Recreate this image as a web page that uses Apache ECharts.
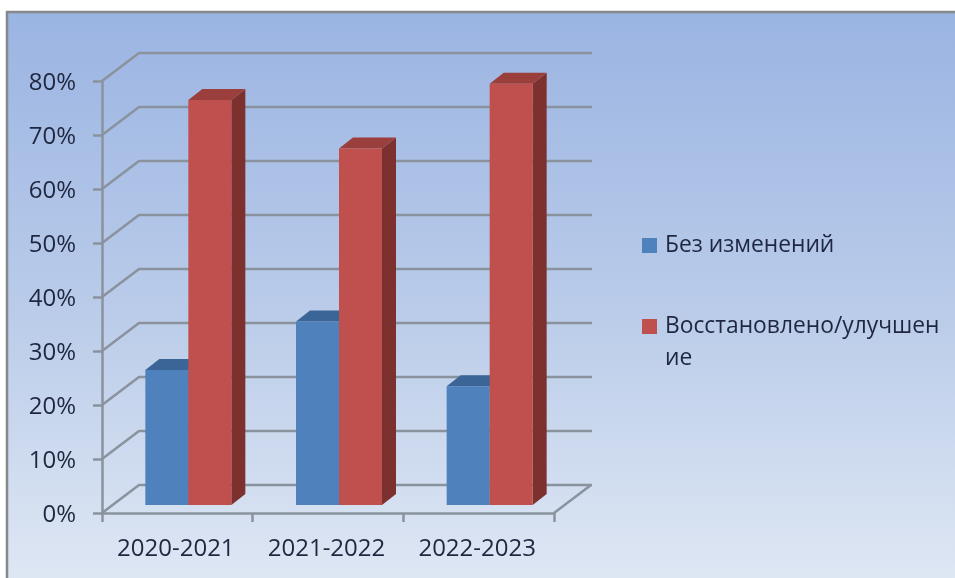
<!DOCTYPE html>
<html><head><meta charset="utf-8">
<style>html,body{margin:0;padding:0;background:#fff}#c{width:955px;height:578px}</style>
<script src="https://cdn.jsdelivr.net/npm/echarts@6/dist/echarts.min.js"></script>
</head><body><div id="c"></div>
<script>
const categories = ['2020-2021', '2021-2022', '2022-2023'];
const seriesNames = ['Без изменений', 'Восстановлено/улучшение'];
const unchanged = [25, 34, 22];
const improved = [75, 66, 78];
const yTicks = [0, 10, 20, 30, 40, 50, 60, 70, 80];

const FONT = '"Open Sans", "Noto Sans", sans-serif';
const TEXT = '#1f2740';
const GRID = '#8a929e';
const LINE_W = 2.5;
const WALL = [37, -28];
const BAR_SHIFT = [11, -8];
const BAR_DEPTH = [14, -11];
const BAR_FRACTION = 0.2854;

function wallItem(params, api) {
  const v = api.value(1), cs = params.coordSys, y = api.coord([0, v])[1];
  const l = cs.x, r = cs.x + cs.width;
  const style = { stroke: GRID, lineWidth: LINE_W, fill: null };
  const children = [{ type: 'polyline', shape: { points: [[l, y], [l + WALL[0], y + WALL[1]], [r + WALL[0] + 1, y + WALL[1]]] }, style }];
  if (v === 0) children.push({ type: 'line', shape: { x1: r, y1: y, x2: r + WALL[0], y2: y + WALL[1] }, style });
  return { type: 'group', children };
}

function barRender(index, front, top, side) {
  return function (params, api) {
    const cat = api.value(0), val = api.value(1);
    const c = api.coord([cat, val]), b = api.coord([cat, 0]);
    const w = api.size([1, 0])[0] * BAR_FRACTION;
    const x0 = c[0] + BAR_SHIFT[0] + (index - 1) * w, x1 = x0 + w;
    const yT = c[1] + BAR_SHIFT[1], yB = b[1] + BAR_SHIFT[1];
    const [dx, dy] = BAR_DEPTH;
    return { type: 'group', children: [
      { type: 'polygon', shape: { points: [[x1, yT], [x1 + dx, yT + dy], [x1 + dx, yB + dy], [x1, yB]] }, style: { fill: side } },
      { type: 'polygon', shape: { points: [[x0, yT], [x0 + dx, yT + dy], [x1 + dx, yT + dy], [x1, yT]] }, style: { fill: top } },
      { type: 'rect', shape: { x: x0, y: yT, width: w, height: yB - yT }, style: { fill: front } }
    ] };
  };
}

const chart = echarts.init(document.getElementById('c'), null, { renderer: 'canvas' });
chart.setOption({
  animation: false,
  tooltip: { show: false },
  graphic: [
    { type: 'rect', z: -10, shape: { x: 7, y: 12, width: 960, height: 580 },
      style: { stroke: '#85898c', lineWidth: 2.5,
        fill: { type: 'linear', x: 0, y: 0, x2: 0, y2: 1, colorStops: [
          { offset: 0, color: '#9ab4e2' }, { offset: 0.5, color: '#b9cbe9' }, { offset: 1, color: '#e0e8f4' } ] } } },
    { type: 'text', z: 10, left: 665, top: 347, style: { text: 'ие', font: '22.8px ' + FONT, fill: TEXT } }
  ],
  grid: { left: 102, right: 401, top: 81, bottom: 65 },
  xAxis: {
    type: 'category', data: categories, boundaryGap: true,
    axisLine: { lineStyle: { color: GRID, width: LINE_W } },
    axisTick: { show: true, interval: 0, length: 9, lineStyle: { color: GRID, width: LINE_W } },
    axisLabel: { interval: 0, hideOverlap: false, color: TEXT, fontFamily: FONT, fontSize: 24, margin: 24, padding: [0, 3, 0, 0] }
  },
  yAxis: {
    type: 'value', min: 0, max: 80, interval: 10,
    axisLine: { show: true, lineStyle: { color: GRID, width: LINE_W } },
    axisTick: { show: true, length: 9, lineStyle: { color: GRID, width: LINE_W } },
    splitLine: { show: false },
    axisLabel: { color: TEXT, fontFamily: FONT, fontSize: 24, margin: 26, verticalAlign: 'top', lineHeight: 5, formatter: '{value}%' }
  },
  legend: {
    orient: 'vertical', left: 637, top: 229, itemWidth: 15, itemHeight: 15, itemGap: 58,
    data: seriesNames.map(n => ({ name: n, icon: 'rect' })),
    selectedMode: false,
    formatter: n => n.length > 21 ? n.slice(0, 21) : n,
    textStyle: { color: TEXT, fontFamily: FONT, fontSize: 22.8, padding: [0, 0, 0, 3] }
  },
  series: [
    { type: 'custom', name: 'walls', silent: true, z: 1, renderItem: wallItem,
      data: yTicks.map(v => [0, v]) },
    { type: 'custom', name: seriesNames[0], silent: true, z: 3, itemStyle: { color: '#4f81bd' },
      renderItem: barRender(0, '#4f81bd', '#3a6596', '#2e5685'),
      data: unchanged.map((v, i) => [i, v]) },
    { type: 'custom', name: seriesNames[1], silent: true, z: 4, itemStyle: { color: '#c0504d' },
      renderItem: barRender(1, '#c0504d', '#9a3f3b', '#7c312e'),
      data: improved.map((v, i) => [i, v]) }
  ]
});
</script></body></html>
